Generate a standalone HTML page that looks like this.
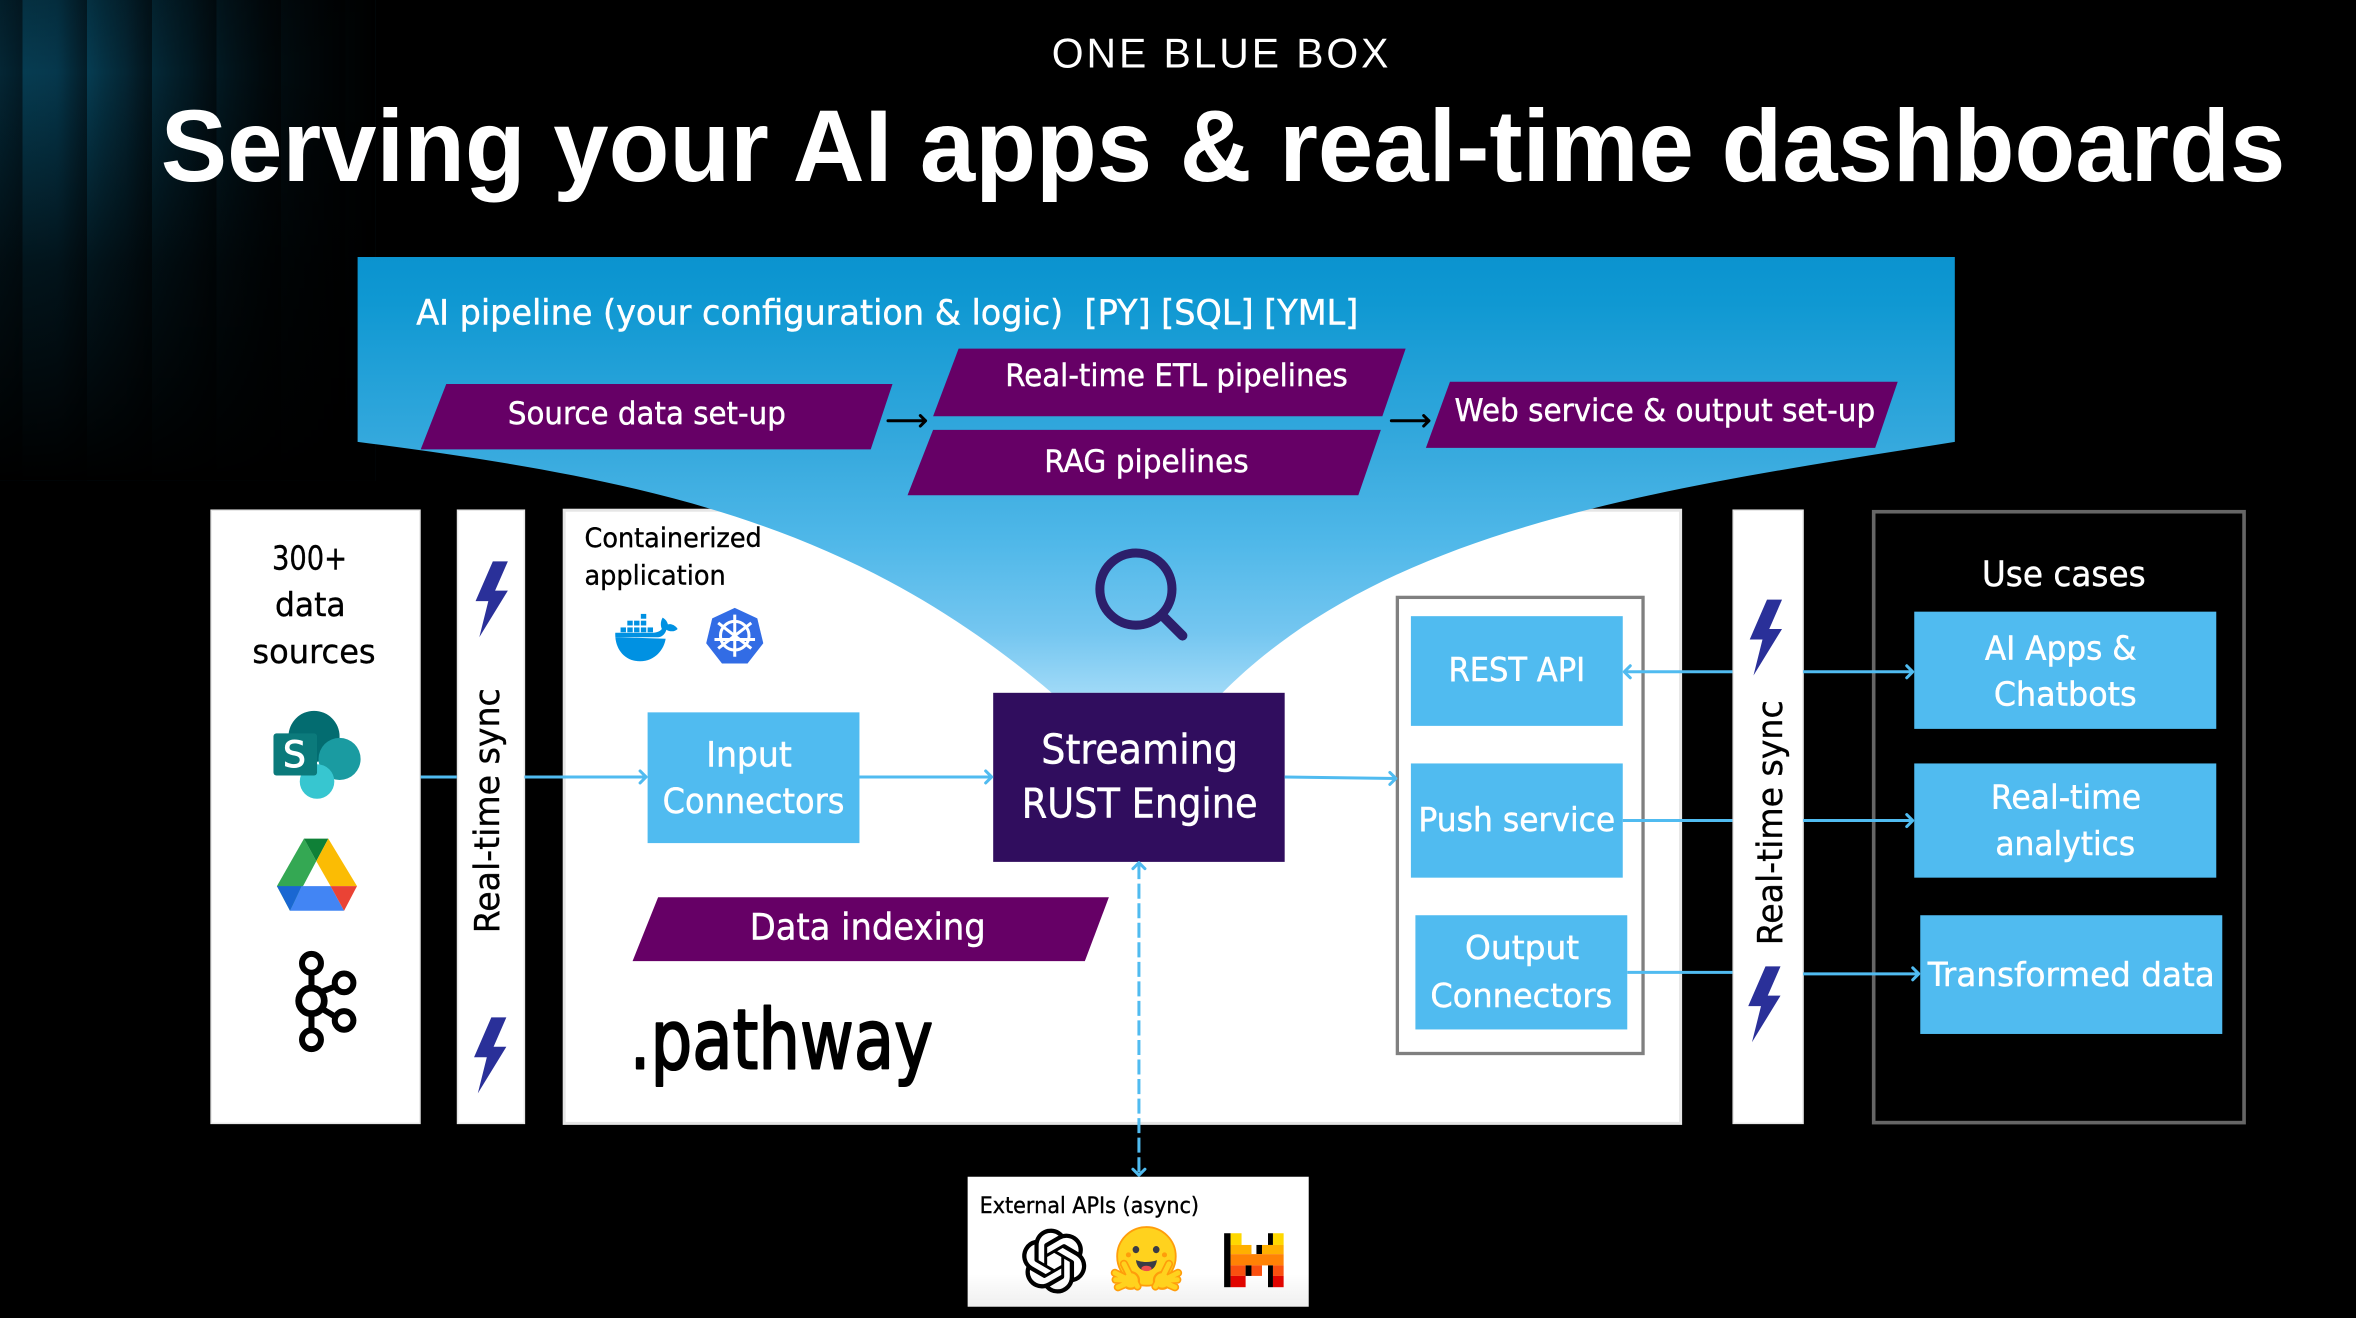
<!DOCTYPE html>
<html>
<head>
<meta charset="utf-8">
<style>
html,body{margin:0;padding:0;background:#000;width:2356px;height:1318px;overflow:hidden}
svg{display:block}
text{font-family:"DejaVu Sans","Liberation Sans",sans-serif;fill:#fff;stroke:#fff;stroke-width:.3}
text.k{fill:#000;stroke:#000;stroke-width:.25}
.l{stroke:#50bbf0;stroke-width:2;fill:none}
.a{stroke:#50bbf0;stroke-width:2;fill:none;stroke-linecap:round;stroke-linejoin:round}
.b{fill:#50bbf0}
.p{fill:#660066}
.w{fill:#fff;stroke:#e8e8e8;stroke-width:1}
</style>
</head>
<body>
<svg xmlns="http://www.w3.org/2000/svg" width="2356" height="1318" viewBox="0 0 1568 877" preserveAspectRatio="none">
<defs>
<linearGradient id="st" gradientUnits="userSpaceOnUse" x1="15" y1="0" x2="58" y2="0" spreadMethod="repeat">
<stop offset="0" stop-color="#07465f"/><stop offset=".6" stop-color="#053549"/><stop offset="1" stop-color="#03202d"/>
</linearGradient>
<linearGradient id="fh" x1="0" y1="0" x2="1" y2="0">
<stop offset="0" stop-color="#000" stop-opacity=".25"/><stop offset=".15" stop-color="#000" stop-opacity="0"/><stop offset=".4" stop-color="#000" stop-opacity=".4"/><stop offset=".7" stop-color="#000" stop-opacity=".8"/><stop offset="1" stop-color="#000" stop-opacity="1"/>
</linearGradient>
<linearGradient id="fv" x1="0" y1="0" x2="0" y2="1">
<stop offset="0" stop-color="#000" stop-opacity=".2"/><stop offset=".15" stop-color="#000" stop-opacity="0"/><stop offset=".55" stop-color="#000" stop-opacity=".65"/><stop offset="1" stop-color="#000" stop-opacity="1"/>
</linearGradient>
<linearGradient id="fun" gradientUnits="userSpaceOnUse" x1="0" y1="171" x2="0" y2="465">
<stop offset="0" stop-color="#0b93cf"/><stop offset=".1" stop-color="#0f98d2"/><stop offset=".45" stop-color="#38aade"/><stop offset=".65" stop-color="#50b8e9"/><stop offset=".85" stop-color="#74c6f0"/><stop offset="1" stop-color="#a3dbf8"/>
</linearGradient>
<linearGradient id="ext" x1="0" y1="0" x2="0" y2="1">
<stop offset="0" stop-color="#fff"/><stop offset=".75" stop-color="#fff"/><stop offset="1" stop-color="#efefef"/>
</linearGradient>
<polygon id="bolt" points="328,373.5 338,373.5 329.5,393 338,393 319,424 325,400 316.5,400" fill="#2a3099"/>
</defs>

<rect width="1568" height="877" fill="#000"/>
<rect x="0" y="0" width="250" height="320" fill="url(#st)"/>
<rect x="0" y="0" width="250" height="320" fill="url(#fh)"/>
<rect x="0" y="0" width="250" height="320" fill="url(#fv)"/>

<text x="700" y="45" textLength="226" lengthAdjust="spacingAndGlyphs" style="font-family:'Liberation Sans',sans-serif;font-size:28px;letter-spacing:2px;stroke:none">ONE BLUE BOX</text>
<text x="107" y="120.5" textLength="1414" lengthAdjust="spacingAndGlyphs" style="font-family:'Liberation Sans',sans-serif;font-weight:700;font-size:68px;stroke:none">Serving your AI apps &amp; real-time dashboards</text>

<!-- white panels -->
<rect class="w" x="140.5" y="339.5" width="139" height="408"/>
<rect class="w" x="304.5" y="339.5" width="44.5" height="408"/>
<rect x="375.5" y="339.5" width="743" height="408" fill="#fff" stroke="#e6e6e6" stroke-width="2"/>
<rect class="w" x="1153.5" y="339.5" width="46.5" height="408"/>
<rect x="1247" y="340.5" width="246.5" height="406.5" fill="#000" stroke="#666" stroke-width="2.4"/>

<!-- funnel -->
<path fill="url(#fun)" d="M238 171 H1301 V294 C1100.5 325.8 923.5 351 813.5 461 H700 C570 350.5 438 319.6 238 294 Z"/>

<!-- pipeline labels -->
<text x="277" y="216" textLength="627" lengthAdjust="spacingAndGlyphs" style="font-size:23px" xml:space="preserve">AI pipeline (your configuration &amp; logic)  [PY] [SQL] [YML]</text>
<polygon class="p" points="297,255.5 594,255.5 579.5,299 280,299"/>
<text x="338" y="282" textLength="185" lengthAdjust="spacingAndGlyphs" style="font-size:21px">Source data set-up</text>
<polygon class="p" points="638,232 935.5,232 920,277 621,277"/>
<text x="669" y="257" textLength="228" lengthAdjust="spacingAndGlyphs" style="font-size:21px">Real-time ETL pipelines</text>
<polygon class="p" points="621,286 919,286 904,329.5 604,329.5"/>
<text x="695" y="314" textLength="136" lengthAdjust="spacingAndGlyphs" style="font-size:21px">RAG pipelines</text>
<polygon class="p" points="965,254 1263,254 1248,298 949,298"/>
<text x="968" y="280" textLength="280" lengthAdjust="spacingAndGlyphs" style="font-size:21px">Web service &amp; output set-up</text>
<g stroke="#000" stroke-width="2" fill="none" stroke-linecap="round" stroke-linejoin="round">
<path d="M591 280 H616 M612.5 276.5 L616 280 L612.5 283.5"/>
<path d="M926 280 H951 M947.5 276.5 L951 280 L947.5 283.5"/>
</g>

<!-- left panel -->
<text class="k" x="181" y="379" textLength="50" lengthAdjust="spacingAndGlyphs" style="font-size:22px">300+</text>
<text class="k" x="183" y="410" textLength="47" lengthAdjust="spacingAndGlyphs" style="font-size:22px">data</text>
<text class="k" x="168" y="441" textLength="82" lengthAdjust="spacingAndGlyphs" style="font-size:22px">sources</text>

<!-- SharePoint -->
<circle cx="209" cy="490" r="17" fill="#036c70"/>
<circle cx="226" cy="505" r="14" fill="#1a9ba1"/>
<circle cx="211" cy="520" r="11.5" fill="#37c6d0"/>
<rect x="182" y="488" width="29" height="28" rx="2" fill="#0b7a7b"/>
<text x="196" y="510.5" text-anchor="middle" style="font-size:24px;stroke-width:.6">S</text>

<!-- Drive -->
<polygon points="202.3,558 210.5,573 193,606 184.3,589.6" fill="#34a853"/>
<polygon points="202.3,558 218.5,558 210.5,573" fill="#0f8037"/>
<polygon points="218.5,558 237.6,589.6 220,589.6 210.5,573" fill="#fbbc04"/>
<polygon points="200.7,589.6 220,589.6 229,606 193,606" fill="#4285f4"/>
<polygon points="184.3,589.6 200.7,589.6 193,606" fill="#1967d2"/>
<polygon points="220,589.6 237.6,589.6 229,606" fill="#ea4335"/>

<!-- Kafka -->
<g fill="none" stroke="#000" stroke-width="4">
<path d="M207.3 647 V684 M214 660 L224 656 M214 671 L224 677"/>
<circle cx="207.3" cy="641" r="6.3" fill="#fff"/>
<circle cx="207.3" cy="666" r="8.5" stroke-width="4.5" fill="#fff"/>
<circle cx="207.3" cy="691.8" r="6.3" fill="#fff"/>
<circle cx="229" cy="654" r="6.2" fill="#fff"/>
<circle cx="229" cy="679" r="6.2" fill="#fff"/>
</g>

<!-- sync bars -->
<use href="#bolt"/>
<use href="#bolt" x="-1" y="303.5"/>
<use href="#bolt" x="848" y="25.5"/>
<use href="#bolt" x="847" y="269.5"/>
<text class="k" transform="translate(332 621) rotate(-90)" x="0" y="0" textLength="163" lengthAdjust="spacingAndGlyphs" style="font-size:23px">Real-time sync</text>
<text class="k" transform="translate(1186 629) rotate(-90)" x="0" y="0" textLength="163" lengthAdjust="spacingAndGlyphs" style="font-size:23px">Real-time sync</text>

<!-- container contents -->
<text class="k" x="389" y="364" textLength="118" lengthAdjust="spacingAndGlyphs" style="font-size:18px">Containerized</text>
<text class="k" x="389" y="389" textLength="94" lengthAdjust="spacingAndGlyphs" style="font-size:18px">application</text>

<!-- Docker -->
<path d="M409.5 424 H438 C441 424 443 421 443.5 419 C446 420.5 449 420.5 451 418.5 C449 415.5 446 415 444.5 415.5 C444 413 442 411.5 441 411 C439.5 413.5 439.5 416.5 440.5 418.5 C439 420.5 436 421 434 421 H409.5 C409 431 415 440 426 440 C436 440 442 432 443 425 Z" fill="#0091e2"/>
<g fill="#0091e2">
<rect x="413" y="417.5" width="3.6" height="3.2"/><rect x="417.5" y="417.5" width="3.6" height="3.2"/><rect x="422" y="417.5" width="3.6" height="3.2"/><rect x="426.5" y="417.5" width="3.6" height="3.2"/><rect x="431" y="417.5" width="3.6" height="3.2"/>
<rect x="417.5" y="413" width="3.6" height="3.2"/><rect x="422" y="413" width="3.6" height="3.2"/><rect x="426.5" y="413" width="3.6" height="3.2"/>
<rect x="426.5" y="408.5" width="3.6" height="3.2"/>
</g>

<!-- Kubernetes -->
<polygon points="489,404.5 504,411.5 508,428 497.5,441.5 480.5,441.5 470,428 474,411.5" fill="#326ce5"/>
<g stroke="#fff" fill="none" stroke-width="2">
<circle cx="489" cy="423" r="9.5"/>
<path d="M489 409 V437 M478 414.5 L500 431.500 M500 414.5 L478 431.5 M475.5 425.5 H502.5"/>
</g>

<!-- magnifier -->
<circle cx="756" cy="392" r="24" fill="none" stroke="#2c1f6b" stroke-width="6"/>
<path d="M775 411 L787 423" stroke="#2c1f6b" stroke-width="6.5" stroke-linecap="round"/>

<!-- blue boxes -->
<rect class="b" x="431" y="474" width="141" height="87"/>
<text x="470" y="510" textLength="57" lengthAdjust="spacingAndGlyphs" style="font-size:23px">Input</text>
<text x="441" y="541" textLength="121" lengthAdjust="spacingAndGlyphs" style="font-size:23px">Connectors</text>

<rect x="661" y="461" width="194" height="112.5" fill="#300d5e"/>
<text x="693" y="508" textLength="131" lengthAdjust="spacingAndGlyphs" style="font-size:27px">Streaming</text>
<text x="680" y="544" textLength="157" lengthAdjust="spacingAndGlyphs" style="font-size:27px">RUST Engine</text>

<polygon class="p" points="438,597 738,597 722,639.5 421,639.5"/>
<text x="499" y="625" textLength="157" lengthAdjust="spacingAndGlyphs" style="font-size:24px">Data indexing</text>

<text class="k" x="419" y="711" textLength="202" lengthAdjust="spacingAndGlyphs" style="font-size:55px;stroke-width:1.4;stroke-linejoin:round">.pathway</text>

<rect x="930" y="397.5" width="163.5" height="303.5" fill="none" stroke="#808080" stroke-width="2.2"/>
<rect class="b" x="939" y="410" width="141" height="73"/>
<text x="964" y="453" textLength="91" lengthAdjust="spacingAndGlyphs" style="font-size:22px">REST API</text>
<rect class="b" x="939" y="508" width="141" height="76"/>
<text x="944" y="553" textLength="131" lengthAdjust="spacingAndGlyphs" style="font-size:22px">Push service</text>
<rect class="b" x="942" y="609" width="141" height="76"/>
<text x="975" y="638" textLength="76" lengthAdjust="spacingAndGlyphs" style="font-size:22px">Output</text>
<text x="952" y="670" textLength="121" lengthAdjust="spacingAndGlyphs" style="font-size:22px">Connectors</text>

<!-- use cases -->
<text x="1319" y="390" textLength="109" lengthAdjust="spacingAndGlyphs" style="font-size:23px">Use cases</text>
<rect class="b" x="1274" y="407" width="201" height="78"/>
<text x="1321" y="439" textLength="101" lengthAdjust="spacingAndGlyphs" style="font-size:22px">AI Apps &amp;</text>
<text x="1327" y="469.5" textLength="95" lengthAdjust="spacingAndGlyphs" style="font-size:22px">Chatbots</text>
<rect class="b" x="1274" y="508" width="201" height="76"/>
<text x="1325" y="538" textLength="100" lengthAdjust="spacingAndGlyphs" style="font-size:22px">Real-time</text>
<text x="1328" y="569" textLength="93" lengthAdjust="spacingAndGlyphs" style="font-size:22px">analytics</text>
<rect class="b" x="1278" y="609" width="201" height="79"/>
<text x="1283" y="656" textLength="191" lengthAdjust="spacingAndGlyphs" style="font-size:22px">Transformed data</text>

<!-- connectors -->
<path class="l" d="M280 517 H304 M349 517 H430"/>
<path class="a" d="M426 513 L430 517 L426 521"/>
<path class="l" d="M572 517 H660"/>
<path class="a" d="M656 513 L660 517 L656 521"/>
<path class="l" d="M855 517 L929 518"/>
<path class="a" d="M925 514 L929 518 L925 522"/>
<path class="l" d="M1081 447 H1153 M1200 447 H1273"/>
<path class="a" d="M1085 443 L1081 447 L1085 451 M1269 443 L1273 447 L1269 451"/>
<path class="l" d="M1080 546 H1153 M1200 546 H1273"/>
<path class="a" d="M1269 542 L1273 546 L1269 550"/>
<path class="l" d="M1083 647 H1153 M1200 648 H1277"/>
<path class="a" d="M1273 644 L1277 648 L1273 652"/>
<path class="l" stroke-dasharray="10 3" d="M758 575 V781"/>
<path class="a" d="M754 578 L758 574 L762 578 M754 778 L758 782 L762 778"/>

<!-- External APIs -->
<rect x="644" y="783" width="227" height="86.5" fill="url(#ext)"/>
<text class="k" x="652" y="807" textLength="146" lengthAdjust="spacingAndGlyphs" style="font-size:14.5px">External APIs (async)</text>

<!-- OpenAI mark -->
<path transform="translate(680 817.5) scale(1.8)" fill="#000" d="M22.2819 9.8211a5.9847 5.9847 0 0 0-.5157-4.9108 6.0462 6.0462 0 0 0-6.5098-2.9A6.0651 6.0651 0 0 0 4.9807 4.1818a5.9847 5.9847 0 0 0-3.9977 2.9 6.0462 6.0462 0 0 0 .7427 7.0966 5.98 5.98 0 0 0 .511 4.9107 6.051 6.051 0 0 0 6.5146 2.9001A5.9847 5.9847 0 0 0 13.2599 24a6.0557 6.0557 0 0 0 5.7718-4.2058 5.9894 5.9894 0 0 0 3.9977-2.9001 6.0557 6.0557 0 0 0-.7475-7.0729zm-9.022 12.6081a4.4755 4.4755 0 0 1-2.8764-1.0408l.1419-.0804 4.7783-2.7582a.7948.7948 0 0 0 .3927-.6813v-6.7369l2.02 1.1686a.071.071 0 0 1 .038.052v5.5826a4.504 4.504 0 0 1-4.4945 4.4944zm-9.6607-4.1254a4.4708 4.4708 0 0 1-.5346-3.0137l.142.0852 4.783 2.7582a.7712.7712 0 0 0 .7806 0l5.8428-3.3685v2.3324a.0804.0804 0 0 1-.0332.0615L9.74 19.9502a4.4992 4.4992 0 0 1-6.1408-1.6464zM2.3408 7.8956a4.485 4.485 0 0 1 2.3655-1.9728V11.6a.7664.7664 0 0 0 .3879.6765l5.8144 3.3543-2.0201 1.1685a.0757.0757 0 0 1-.071 0l-4.8303-2.7865A4.504 4.504 0 0 1 2.3408 7.872zm16.5963 3.8558L13.1038 8.364 15.1192 7.2a.0757.0757 0 0 1 .071 0l4.8303 2.7913a4.4944 4.4944 0 0 1-.6765 8.1042v-5.6772a.79.79 0 0 0-.407-.667zm2.0107-3.0231l-.142-.0852-4.7735-2.7818a.7759.7759 0 0 0-.7854 0L9.409 9.2297V6.8974a.0662.0662 0 0 1 .0284-.0615l4.8303-2.7866a4.4992 4.4992 0 0 1 6.6802 4.66zM8.3065 12.863l-2.02-1.1638a.0804.0804 0 0 1-.038-.0567V6.0742a4.4992 4.4992 0 0 1 7.3757-3.4537l-.142.0805L8.704 5.459a.7948.7948 0 0 0-.3927.6813zm1.0976-2.3654l2.602-1.4998 2.6069 1.4998v2.9994l-2.5974 1.4997-2.6067-1.4997Z"/>

<!-- Hugging face -->
<circle cx="763" cy="836" r="19.5" fill="#ffd21e" stroke="#ff9d0b" stroke-width="1.2"/>
<ellipse cx="756" cy="831.5" rx="2.2" ry="2.4" fill="#3a3b45"/><ellipse cx="769.5" cy="831.5" rx="2.2" ry="2.4" fill="#3a3b45"/>
<circle cx="751" cy="835" r="1.7" fill="#ff9d0b"/><circle cx="775" cy="835" r="1.7" fill="#ff9d0b"/>
<path d="M756 838.5 Q763 841 770 838.5 Q769 845.5 763 845.5 Q757 845.500 756 838.5 Z" fill="#3a3b45"/>
<ellipse cx="763" cy="844" rx="3.4" ry="1.8" fill="#ef4e4e"/>
<g fill="none" stroke-linecap="round">
<g stroke="#ff9d0b" stroke-width="5.5"><path d="M752 852 L742 847 M752 852 L742.500 851.500 M752 853 L744 856.500 M753 851 L748 841 M754 850 L757 856"/><path d="M774 852 L784 847 M774 852 L783.500 851.500 M774 853 L782 856.500 M773 851 L778 841 M772 850 L769 856"/></g>
<circle cx="752.500" cy="852" r="5.500" fill="#ffd21e" stroke="#ff9d0b" stroke-width="1.500"/>
<circle cx="773.500" cy="852" r="5.500" fill="#ffd21e" stroke="#ff9d0b" stroke-width="1.500"/>
<g stroke="#ffd21e" stroke-width="3.300"><path d="M752 852 L742 847 M752 852 L742.500 851.500 M752 853 L744 856.500 M753 851 L748 841 M754 850 L757 856"/><path d="M774 852 L784 847 M774 852 L783.500 851.500 M774 853 L782 856.500 M773 851 L778 841 M772 850 L769 856"/></g>
</g>

<!-- Mistral -->
<g>
<rect x="814.7" y="820.6" width="4.3" height="35.900" fill="#000"/>
<rect x="819" y="820.6" width="7.3" height="7.8" fill="#ffd800"/>
<rect x="819" y="828.4" width="13.900" height="6.100" fill="#ffaf00"/>
<rect x="836.2" y="828.4" width="3.7" height="6.100" fill="#000"/>
<rect x="843.9" y="820.6" width="3.3" height="7.8" fill="#000"/>
<rect x="847.2" y="820.6" width="7.1" height="7.8" fill="#ffd800"/>
<rect x="839.9" y="828.4" width="14.4" height="6.100" fill="#ffaf00"/>
<rect x="819" y="834.5" width="35.3" height="7.5" fill="#ff8205"/>
<rect x="819" y="842" width="10" height="7" fill="#fa500f"/>
<rect x="819" y="849" width="10" height="7.5" fill="#e10500"/>
<rect x="829" y="842" width="3.900" height="7" fill="#000"/>
<rect x="832.900" y="842" width="7" height="7" fill="#fa500f"/>
<rect x="843.900" y="842" width="3.300" height="14.500" fill="#000"/>
<rect x="847.200" y="842" width="7.100" height="7" fill="#fa500f"/>
<rect x="847.200" y="849" width="7.100" height="7.500" fill="#e10500"/>
</g>
</svg>
</body>
</html>
